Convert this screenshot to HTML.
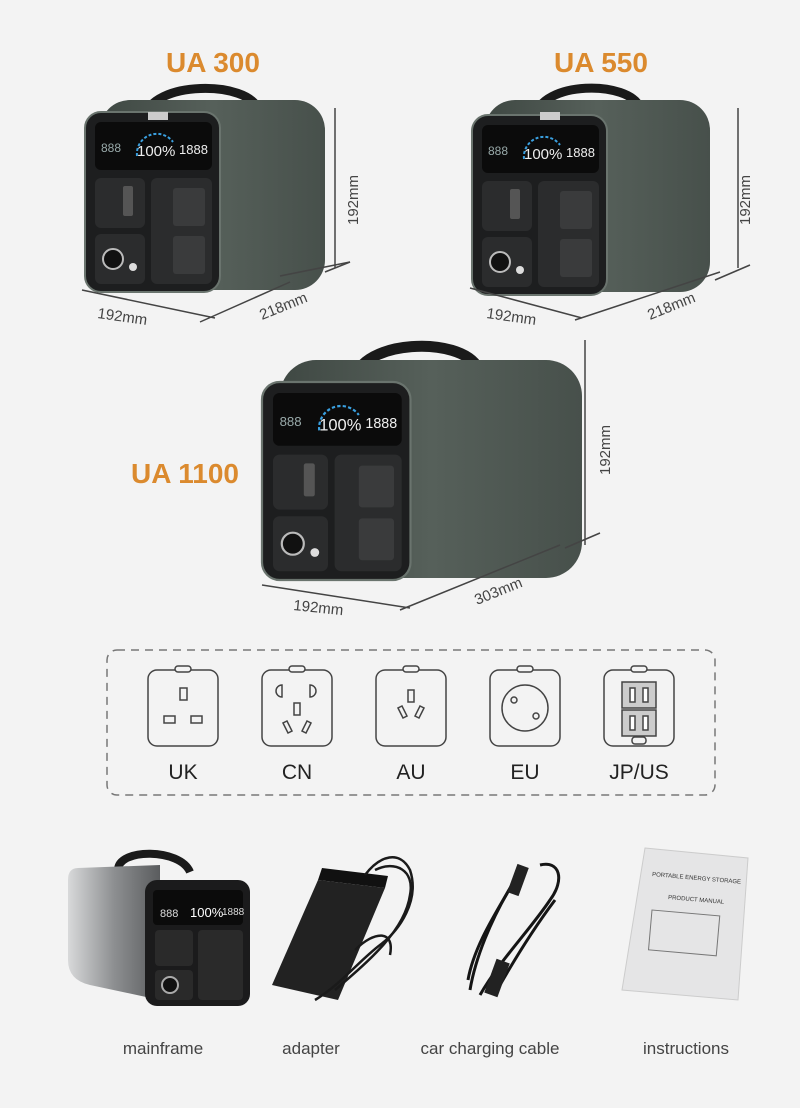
<!DOCTYPE html>
<html><head><meta charset="utf-8"><style>
html,body{margin:0;padding:0;background:#f3f3f3;}
body{width:800px;height:1103px;overflow:hidden;font-family:"Liberation Sans",sans-serif;}
</style></head><body>
<svg width="800" height="1103" viewBox="0 0 800 1103" xmlns="http://www.w3.org/2000/svg" font-family="Liberation Sans, sans-serif">
<defs>
<linearGradient id="gbody" x1="0" x2="1" y1="0" y2="0"><stop offset="0" stop-color="#3f4843"/><stop offset="0.5" stop-color="#56605a"/><stop offset="1" stop-color="#47504b"/></linearGradient>
<linearGradient id="gsil" x1="0" x2="1" y1="0" y2="0"><stop offset="0" stop-color="#d8d9da"/><stop offset="0.5" stop-color="#8d8f91"/><stop offset="1" stop-color="#5a5c5e"/></linearGradient>
<g id="front">
  <rect x="0" y="0" width="135" height="180" rx="16" fill="#1d1e1f" stroke="#6a746e" stroke-width="2"/>
  <rect x="10" y="10" width="117" height="48" rx="6" fill="#0b0b0b"/>
  <text x="16" y="40" font-size="12" fill="#9aa">888</text>
  <path d="M52 44 A20 20 0 0 1 88 30" stroke="#3aa0e0" stroke-width="2" fill="none" stroke-dasharray="3 2"/>
  <text x="52" y="44" font-size="15" fill="#eee">100%</text>
  <text x="94" y="42" font-size="13" fill="#eee">1888</text>
  <rect x="10" y="66" width="50" height="50" rx="6" fill="#2b2c2d"/>
  <rect x="10" y="122" width="50" height="50" rx="6" fill="#2b2c2d"/>
  <rect x="66" y="66" width="61" height="106" rx="6" fill="#2b2c2d"/>
  <rect x="38" y="74" width="10" height="30" rx="2" fill="#555"/>
  <circle cx="28" cy="147" r="10" fill="#111" stroke="#bbb" stroke-width="2"/>
  <circle cx="48" cy="155" r="4" fill="#ddd"/>
  <rect x="88" y="76" width="32" height="38" rx="3" fill="#3a3b3c"/>
  <rect x="88" y="124" width="32" height="38" rx="3" fill="#3a3b3c"/>
</g>
</defs>

<!-- titles -->
<text x="213" y="72" font-size="28" font-weight="bold" fill="#db8a2e" text-anchor="middle">UA 300</text>
<text x="601" y="72" font-size="28" font-weight="bold" fill="#db8a2e" text-anchor="middle">UA 550</text>
<text x="185" y="483" font-size="28" font-weight="bold" fill="#db8a2e" text-anchor="middle">UA 1100</text>

<!-- product 1 -->
<path d="M145 118 C150 80 250 80 258 110" stroke="#1a1a1a" stroke-width="9" fill="none"/>
<rect x="100" y="100" width="225" height="190" rx="30" fill="url(#gbody)"/>
<use href="#front" transform="translate(85 112)"/>
<rect x="148" y="112" width="20" height="8" fill="#ccc"/>
<!-- product 2 -->
<path d="M535 118 C540 80 630 80 640 108" stroke="#1a1a1a" stroke-width="9" fill="none"/>
<rect x="485" y="100" width="225" height="192" rx="30" fill="url(#gbody)"/>
<use href="#front" transform="translate(472 115)"/>
<rect x="540" y="112" width="20" height="8" fill="#ccc"/>
<!-- product 3 -->
<path d="M355 380 C360 340 460 335 478 368" stroke="#1a1a1a" stroke-width="11" fill="none"/>
<rect x="280" y="360" width="302" height="218" rx="36" fill="url(#gbody)"/>
<use href="#front" transform="translate(262 382) scale(1.1 1.1)"/>

<!-- dimension lines -->
<g stroke="#444" stroke-width="1.5" fill="none">
<path d="M335 108 V268 M325 272 L350 262"/>
<path d="M82 290 L215 318 M200 322 L290 282 M280 276 L350 262"/>
<path d="M738 108 V268 M715 280 L750 265"/>
<path d="M470 288 L582 318 M575 320 L720 272"/>
<path d="M585 340 V545 M565 548 L600 533"/>
<path d="M262 585 L410 608 M400 610 L560 545"/>
</g>
<g font-size="15" fill="#444">
<text x="97" y="318" transform="rotate(8 97 318)">192mm</text>
<text x="262" y="320" transform="rotate(-22 262 320)">218mm</text>
<text x="358" y="225" transform="rotate(-90 358 225)">192mm</text>
<text x="486" y="318" transform="rotate(8 486 318)">192mm</text>
<text x="650" y="320" transform="rotate(-22 650 320)">218mm</text>
<text x="750" y="225" transform="rotate(-90 750 225)">192mm</text>
<text x="293" y="610" transform="rotate(6 293 610)">192mm</text>
<text x="477" y="605" transform="rotate(-22 477 605)">303mm</text>
<text x="610" y="475" transform="rotate(-90 610 475)">192mm</text>
</g>

<!-- socket box -->
<rect x="107" y="650" width="608" height="145" rx="10" fill="none" stroke="#777" stroke-width="1.5" stroke-dasharray="8 6"/>
<g stroke="#444" stroke-width="1.5" fill="none">
 <rect x="148" y="670" width="70" height="76" rx="9"/><rect x="175" y="666" width="16" height="6" rx="3" fill="#f3f3f3"/>
 <rect x="180" y="688" width="7" height="12"/><rect x="164" y="716" width="11" height="7"/><rect x="191" y="716" width="11" height="7"/>
 <rect x="262" y="670" width="70" height="76" rx="9"/><rect x="289" y="666" width="16" height="6" rx="3" fill="#f3f3f3"/>
 <path d="M282 685 a6 6 0 0 0 0 12z M310 685 a6 6 0 0 1 0 12z"/><rect x="294" y="703" width="6" height="12"/><path d="M283 723 l5 10 4-2-5-10z M311 723 l-5 10-4-2 5-10z"/>
 <rect x="376" y="670" width="70" height="76" rx="9"/><rect x="403" y="666" width="16" height="6" rx="3" fill="#f3f3f3"/>
 <rect x="408" y="690" width="6" height="12"/><path d="M398 708 l5 10 4-2-5-10z M424 708 l-5 10-4-2 5-10z"/>
 <rect x="490" y="670" width="70" height="76" rx="9"/><rect x="517" y="666" width="16" height="6" rx="3" fill="#f3f3f3"/>
 <circle cx="525" cy="708" r="23"/><circle cx="514" cy="700" r="3"/><circle cx="536" cy="716" r="3"/>
 <rect x="604" y="670" width="70" height="76" rx="9"/><rect x="631" y="666" width="16" height="6" rx="3" fill="#f3f3f3"/>
 <rect x="622" y="682" width="34" height="26" fill="#ccc"/><rect x="622" y="710" width="34" height="26" fill="#ccc"/>
 <rect x="630" y="688" width="5" height="14" fill="#fff"/><rect x="643" y="688" width="5" height="14" fill="#fff"/>
 <rect x="630" y="716" width="5" height="14" fill="#fff"/><rect x="643" y="716" width="5" height="14" fill="#fff"/>
 <rect x="632" y="737" width="14" height="7" rx="3"/>
</g>
<g font-size="21" fill="#222" text-anchor="middle">
<text x="183" y="779">UK</text><text x="297" y="779">CN</text><text x="411" y="779">AU</text><text x="525" y="779">EU</text><text x="639" y="779">JP/US</text>
</g>

<!-- bottom items -->
<path d="M118 870 C118 848 180 848 190 872" stroke="#1a1a1a" stroke-width="8" fill="none"/>
<path d="M78 868 L160 865 L160 1000 L90 985 Q68 980 68 960 L68 880 Q68 868 78 868z" fill="url(#gsil)"/>
<rect x="145" y="880" width="105" height="126" rx="12" fill="#1b1b1c"/>
<rect x="153" y="890" width="90" height="35" rx="4" fill="#0b0b0b"/>
<text x="160" y="917" font-size="11" fill="#ddd">888</text><text x="190" y="917" font-size="13" fill="#fff">100%</text><text x="222" y="915" font-size="10" fill="#ddd">1888</text>
<rect x="155" y="930" width="38" height="36" rx="4" fill="#2a2a2a"/><rect x="155" y="970" width="38" height="30" rx="4" fill="#2a2a2a"/><rect x="198" y="930" width="45" height="70" rx="4" fill="#2a2a2a"/>
<circle cx="170" cy="985" r="8" fill="#111" stroke="#aaa" stroke-width="2"/>

<path d="M272 985 L318 880 L385 888 L338 1000 Z" fill="#222"/>
<path d="M318 880 L385 888 L388 876 L322 868Z" fill="#111"/>
<g stroke="#1a1a1a" stroke-width="2.5" fill="none">
<path d="M365 875 C380 855 400 850 410 870 C420 900 400 930 380 945 C360 960 340 985 315 1000"/>
<path d="M375 870 C395 860 415 870 410 895 C405 930 370 960 335 990"/>
<path d="M355 950 C375 930 395 930 390 955"/>
</g>
<g stroke="#151515" stroke-width="3" fill="none">
<path d="M520 870 C505 900 475 940 468 980"/><path d="M540 865 C560 860 565 880 550 900 C530 930 500 960 480 995"/>
<path d="M515 880 C490 920 475 960 470 990"/><path d="M555 900 C540 920 520 950 500 985"/>
</g>
<rect x="512" y="865" width="12" height="30" fill="#222" transform="rotate(20 518 880)"/>
<rect x="490" y="960" width="14" height="36" fill="#222" transform="rotate(20 497 978)"/>

<path d="M645 848 L748 858 L738 1000 L622 990 Z" fill="#e5e5e6" stroke="#ccc"/>
<text x="652" y="876" font-size="6" fill="#333" transform="rotate(5 652 876)">PORTABLE ENERGY STORAGE</text>
<text x="668" y="899" font-size="6" fill="#333" transform="rotate(5 668 899)">PRODUCT MANUAL</text>
<rect x="652" y="910" width="68" height="40" fill="none" stroke="#777" transform="rotate(5 652 910)"/>

<g font-size="17" fill="#444" text-anchor="middle">
<text x="163" y="1054">mainframe</text><text x="311" y="1054">adapter</text><text x="490" y="1054">car charging cable</text><text x="686" y="1054">instructions</text>
</g>
</svg>
</body></html>
